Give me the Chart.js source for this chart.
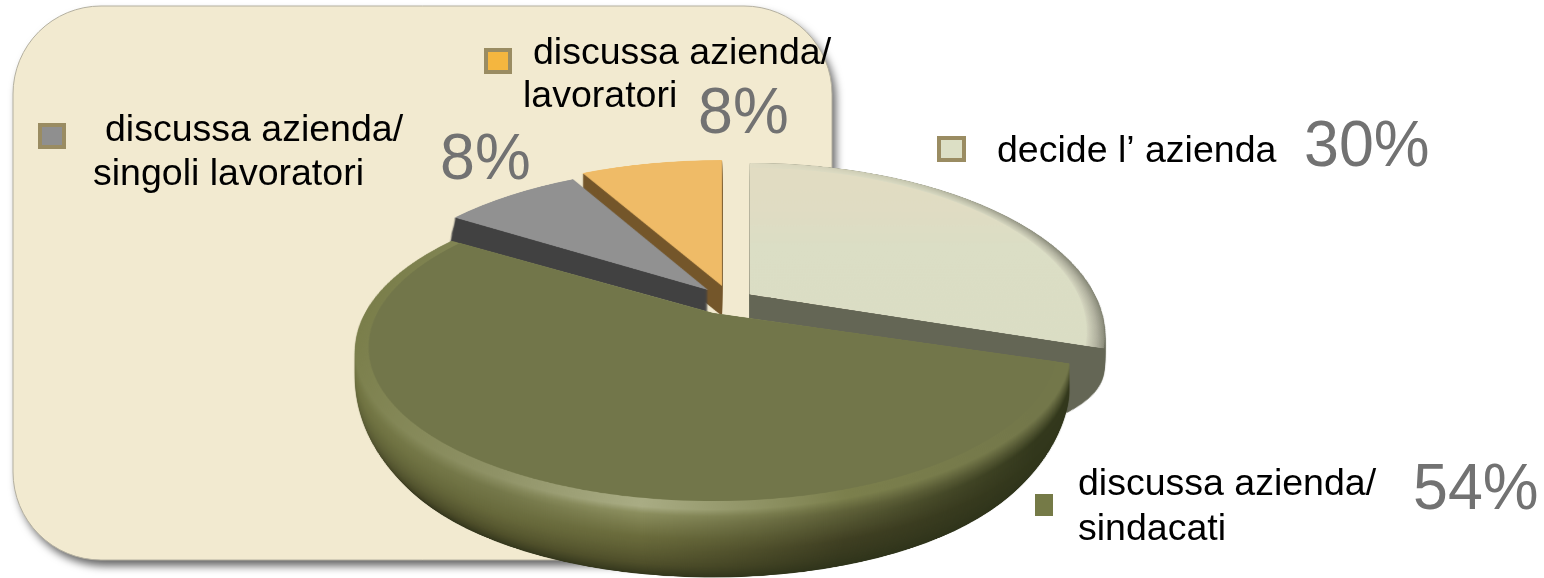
<!DOCTYPE html>
<html><head><meta charset="utf-8">
<style>html,body{margin:0;padding:0;background:#fff}canvas{display:block}</style>
<script src="https://cdn.jsdelivr.net/npm/chart.js@4"></script>
</head><body><canvas id="c" width="1544" height="578"></canvas>
<script>
const categories = ["decide l’ azienda", "discussa azienda/ sindacati", "discussa azienda/ singoli lavoratori", "discussa azienda/ lavoratori"];
const values = [30, 54, 8, 8];
const labelLines = [["decide l’ azienda"], ["discussa azienda/", "sindacati"], ["discussa azienda/", "singoli lavoratori"], ["discussa azienda/", "lavoratori"]];

/* ---- styling and layout only ---- */
const faceColors = ["#dbdec5", "#72764a", "#919191", "#efbb67"];
const R = 400, W = 2 * R + 20, Rc = W / 2, PERSP = 0.231;
const hex = h => [1, 3, 5].map(i => parseInt(h.substr(i, 2), 16));
const ramp = (stops, t) => {
  for (let i = 1; i < stops.length; i++) if (t <= stops[i][0]) {
    const a = stops[i - 1], b = stops[i], f = (t - a[0]) / (b[0] - a[0] || 1);
    const ca = hex(a[1]), cb = hex(b[1]);
    return `rgb(${ca.map((v, k) => Math.round(v + (cb[k] - v) * f)).join(",")})`;
  }
  return stops[stops.length - 1][1];
};
const greenRamps = [
  [0, [[0, "#7a7e4a"], [.25, "#6f7240"], [.55, "#555732"], [.8, "#3f3f22"], [1, "#2e2e18"]]],
  [.25, [[0, "#8f9266"], [.15, "#75784a"], [.45, "#66683a"], [.75, "#4f4f2a"], [1, "#33361c"]]],
  [.42, [[0, "#a9ac84"], [.08, "#8b8e5e"], [.35, "#6b6c3c"], [.75, "#4f4f2a"], [1, "#33361c"]]],
  [.65, [[0, "#7b7f4c"], [.15, "#5e6038"], [.5, "#3f3f22"], [1, "#2e331a"]]],
  [.9, [[0, "#73774a"], [.25, "#33381c"], [1, "#2e331a"]]]
];

/* slice rendering parameters: order is back to front */
const sliceStyle = [
  { i: 0, cx: 750, cy: 294, hx: 328, hy: 155, depth: 70, wall: "#646655" },
  { i: 3, cx: 722, cy: 286, hx: 348, hy: 155, depth: 30, wall: "#74562a" },
  { i: 2, cx: 708, cy: 290, hx: 337, hy: 152, depth: 34, wall: "#414141" },
  { i: 1, cx: 713, cy: 313, hx: 348, hy: 151.5, depth: 85 }
];

const legendBoxes = [
  { x: 937, y: 136, w: 29, h: 26, fill: "#dcdfc5", border: "#9a8c62" },
  { x: 1035, y: 494, w: 18, h: 22, fill: "#757a47", border: null },
  { x: 38, y: 123, w: 28, h: 26, fill: "#8f8f8f", border: "#9a8c62" },
  { x: 484, y: 48, w: 28, h: 26, fill: "#f4b63f", border: "#9a8c62" }
];
const textPlaces = [
  [[997, 162]], [[1078, 495], [1078, 540]], [[105, 141], [93, 185]], [[533, 64], [523, 107]]
];
const percentPlaces = [[1304, 166], [1413, 509], [440, 179], [698, 133]];

function warp(ctx, src, p, s, dy) {
  const cy = p.cy + dy, top = Math.floor(cy - s * p.hy / (1 + PERSP * s)) - 1, bot = Math.ceil(cy + s * p.hy / (1 - PERSP * s)) + 1;
  const planeY = yy => { const u = (yy - cy) / p.hy; return u / (1 + PERSP * u); };
  for (let y = Math.max(0, top); y < Math.min(578, bot); y++) {
    const y0 = planeY(y), y1 = planeY(y + 1), w = 1 - PERSP * (y0 + y1) / 2;
    const sy0 = Rc + R * y0 / s, sy1 = Rc + R * y1 / s;
    if (sy1 <= 0 || sy0 >= W) continue;
    const a = Math.max(0, sy0), b = Math.min(W, sy1);
    const kx = s * p.hx / (w * R);
    ctx.drawImage(src, 0, a, W, Math.max(b - a, .01), p.cx - Rc * kx, y, W * kx, 1);
  }
}

const piePainter = {
  id: "piePainter",
  beforeDraw(chart) {
    const ctx = chart.ctx;
    ctx.save();
    ctx.beginPath(); ctx.roundRect(13, 6, 819, 554, 88);
    ctx.shadowColor = "rgba(0,0,0,.6)"; ctx.shadowBlur = 9; ctx.shadowOffsetX = 4; ctx.shadowOffsetY = 6;
    ctx.fillStyle = "#f2ead0"; ctx.fill();
    ctx.shadowColor = "transparent";
    ctx.lineWidth = 1; ctx.strokeStyle = "#b4b0a0"; ctx.stroke();
    ctx.restore();
  },
  beforeDatasetsDraw(chart) {
    const ctx = chart.ctx, arcs = chart.getDatasetMeta(0).data;
    ctx.save();
    ctx.imageSmoothingEnabled = true; ctx.imageSmoothingQuality = "high";
    const mask = document.createElement("canvas"), tmp = document.createElement("canvas");
    mask.width = mask.height = tmp.width = tmp.height = W;
    const mc = mask.getContext("2d"), tc = tmp.getContext("2d");
    for (const p of sliceStyle) {
      const arc = arcs[p.i], k = R / arc.outerRadius;
      mc.setTransform(1, 0, 0, 1, 0, 0); mc.clearRect(0, 0, W, W);
      mc.setTransform(k, 0, 0, k, Rc - arc.x * k, Rc - arc.y * k);
      arc.draw(mc);
      const paint = fill => {
        tc.globalCompositeOperation = "source-over";
        tc.clearRect(0, 0, W, W);
        tc.fillStyle = fill; tc.fillRect(0, 0, W, W);
        tc.globalCompositeOperation = "destination-in";
        tc.drawImage(mask, 0, 0);
        tc.globalCompositeOperation = "source-over";
      };
      if (p.i === 1) {
        /* rounded olive body: lower layers shrink so the side curves inward */
        for (let d = p.depth; d >= 0; d--) {
          const t = d / p.depth, q = Math.max(0, (t - .3) / .7), s = 1 - .07 * q * q;
          const g = tc.createLinearGradient(10, 0, W - 10, 0);
          greenRamps.forEach(r => g.addColorStop(r[0], ramp(r[1], t)));
          paint(g);
          warp(ctx, tmp, p, s, d);
        }
        paint(faceColors[1]);
        warp(ctx, tmp, p, .965, 0);
      } else if (p.i === 0) {
        /* cut wall, then a bevel ring lying in the plane of the top */
        for (let d = p.depth; d >= 0; d--) {
          const q = Math.max(0, (d / p.depth - .3) / .7), s = 1.05 - .1 * q * q;
          paint(p.wall);
          warp(ctx, tmp, p, s, d);
        }
        for (let n = 10; n >= 1; n--) {
          const f = n / 10, g = tc.createLinearGradient(Rc, 0, W, 0);
          g.addColorStop(0, "#e0dcc3");
          g.addColorStop(.55, ramp([[0, "#dbdcc4"], [1, "#c4c5ae"]], f));
          g.addColorStop(.95, ramp([[0, "#d8d9c2"], [.6, "#b0b09e"], [1, "#8c8d7c"]], f));
          paint(g);
          warp(ctx, tmp, p, 1 + .05 * f, 0);
        }
        const top = tc.createLinearGradient(0, 0, 0, W);
        top.addColorStop(0, "#e2dcc2"); top.addColorStop(.2, "#e0dcc3"); top.addColorStop(.34, "#dbdec5"); top.addColorStop(1, "#dadcc3");
        paint(top);
        warp(ctx, tmp, p, 1, 0);
      } else {
        paint(p.wall);
        for (let d = p.depth; d >= 1; d--) warp(ctx, tmp, p, 1 + (p.i === 2 ? .03 : 0) * (d / p.depth), d);
        paint(faceColors[p.i]);
        warp(ctx, tmp, p, 1, 0);
      }
    }
    ctx.restore();
    return false;
  },
  afterDraw(chart) {
    const ctx = chart.ctx;
    ctx.save();
    legendBoxes.forEach(b => {
      ctx.fillStyle = b.border || b.fill;
      ctx.fillRect(b.x, b.y, b.w, b.h);
      if (b.border) { ctx.fillStyle = b.fill; ctx.fillRect(b.x + 4, b.y + 4, b.w - 8, b.h - 8); }
    });
    ctx.textBaseline = "alphabetic"; ctx.textAlign = "left";
    ctx.fillStyle = "#000"; ctx.font = '37.5px "Liberation Sans"';
    labelLines.forEach((lines, i) => lines.forEach((ln, j) => ctx.fillText(ln, textPlaces[i][j][0], textPlaces[i][j][1])));
    ctx.fillStyle = "#727272"; ctx.font = '65px "Liberation Sans"';
    values.forEach((v, i) => {
      ctx.save();
      ctx.translate(percentPlaces[i][0], percentPlaces[i][1]);
      ctx.scale(.965, 1);
      ctx.fillText(v + "%", 0, 0);
      ctx.restore();
    });
    ctx.restore();
  }
};

new Chart(document.getElementById("c"), {
  type: "pie",
  data: { labels: categories, datasets: [{ data: values, backgroundColor: "#fff", borderWidth: 0 }] },
  options: {
    responsive: false, animation: false,
    plugins: { legend: { display: false }, tooltip: { enabled: false } }
  },
  plugins: [piePainter]
});
</script></body></html>
